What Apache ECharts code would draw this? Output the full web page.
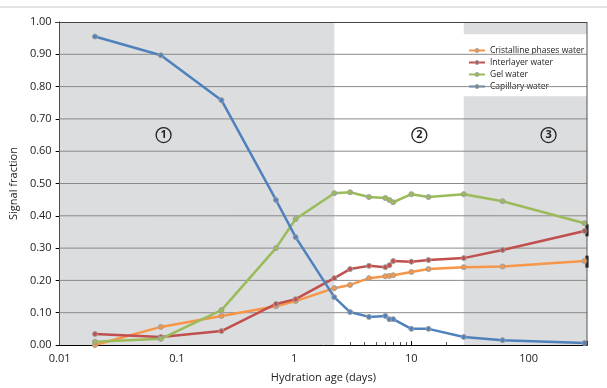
<!DOCTYPE html>
<html>
<head>
<meta charset="utf-8">
<script src="https://cdn.jsdelivr.net/npm/echarts@6/dist/echarts.min.js"></script>
<style>
  html, body { margin: 0; padding: 0; background: #fff; }
  #chart { width: 607px; height: 388px; }
</style>
</head>
<body>
<div id="chart"></div>
<script>
// hydration age in days (log axis)
const ages = [0.02, 0.073, 0.24, 0.7, 1.03, 2.2, 3, 4.35, 6, 6.5, 7, 10, 14, 28, 60, 300];

const crystalline = [0.0, 0.056, 0.09, 0.12, 0.136, 0.176, 0.186, 0.207, 0.213, 0.214, 0.216, 0.226, 0.235, 0.241, 0.243, 0.26];
const interlayer = [0.034, 0.025, 0.043, 0.127, 0.142, 0.207, 0.235, 0.245, 0.241, 0.247, 0.26, 0.258, 0.263, 0.269, 0.294, 0.353];
const gel = [0.01, 0.019, 0.108, 0.30, 0.39, 0.47, 0.473, 0.458, 0.455, 0.449, 0.442, 0.467, 0.458, 0.467, 0.445, 0.377];
const capillary = [0.955, 0.897, 0.758, 0.449, 0.334, 0.148, 0.102, 0.087, 0.09, 0.08, 0.08, 0.05, 0.05, 0.025, 0.015, 0.006];

const seriesNames = ['Cristalline phases water', 'Interlayer water', 'Gel water', 'Capillary water'];
const seriesColors = ['#F79646', '#C0504D', '#9BBB59', '#4F81BD'];

// y grid lines
const yGrid = [0.1, 0.2, 0.3, 0.4, 0.5, 0.6, 0.7, 0.8, 0.9];

// stage boundaries (days) and labels
const stageEdges = [0.01, 2.2, 28, 315];
const stageLabels = ['1', '2', '3'];
const stageLabelX = [0.077, 11.7, 148];

const chart = echarts.init(document.getElementById('chart'));

const toPairs = (vals) => ages.map((a, i) => [a, vals[i]]);

const series = [crystalline, interlayer, gel, capillary].map((vals, i) => ({
  name: seriesNames[i],
  type: 'line',
  data: toPairs(vals),
  symbol: 'circle',
  symbolSize: 5,
  color: seriesColors[i],
  lineStyle: { width: 2.5, color: seriesColors[i] },
  itemStyle: { color: seriesColors[i], borderColor: '#a0a0a0', borderWidth: 1 },
  z: 10,
}));

// shaded stages
series.push({
  name: 'stages',
  type: 'line',
  data: [],
  silent: true,
  z: 1,
  markArea: {
    silent: true,
    itemStyle: { color: '#DCDDDF' },
    data: [
      [{ coord: [stageEdges[0], 0] }, { coord: [stageEdges[1], 1] }],
      [{ coord: [stageEdges[2], 0.962] }, { coord: [stageEdges[3], 1] }],
      [{ coord: [stageEdges[2], 0] }, { coord: [stageEdges[3], 0.77] }],
    ],
  },
});

// grid lines redrawn above the shading, below the data
yGrid.forEach((v) => {
  series.push({
    name: 'grid' + v,
    type: 'line',
    data: [[stageEdges[0], v], [stageEdges[3], v]],
    symbol: 'none',
    silent: true,
    color: '#8a8a8a',
    lineStyle: { color: '#8a8a8a', width: 1 },
    emphasis: { disabled: true },
    z: 5,
  });
});

// circled stage numbers
series.push({
  name: 'stageNums',
  type: 'line',
  data: [],
  silent: true,
  z: 11,
  markPoint: {
    silent: true,
    symbol: 'circle',
    symbolSize: 15,
    itemStyle: { color: 'rgba(0,0,0,0)', borderColor: '#222', borderWidth: 1.3 },
    label: { show: true, color: '#222', fontSize: 11, fontWeight: 'bold', fontFamily: 'Open Sans' },
    data: stageLabels.map((t, i) => ({ coord: [stageLabelX[i], 0.65], value: t })),
  },
});

// small black marks at the right edge
series.push({
  name: 'edge',
  type: 'line',
  data: [],
  silent: true,
  z: 11,
  markPoint: {
    silent: true,
    symbol: 'rect',
    symbolSize: [3, 12],
    itemStyle: { color: '#000' },
    label: { show: false },
    data: [{ coord: [315, 0.355] }, { coord: [315, 0.258] }],
  },
});

const options = {
  animation: false,
  textStyle: { fontFamily: 'Open Sans' },
  grid: { left: 55, right: 20, top: 22, bottom: 42 },
  legend: {
    data: seriesNames.map((n, i) => ({
      name: n,
      itemStyle: { color: seriesColors[i], borderColor: '#a0a0a0', borderWidth: 1 },
      lineStyle: { color: seriesColors[i] },
    })),
    orient: 'vertical',
    left: 463,
    top: 41,
    itemWidth: 16,
    itemHeight: 5,
    itemGap: 3,
    textStyle: { fontSize: 8.5, color: '#222' },
  },
  xAxis: {
    type: 'log',
    logBase: 10,
    min: 0.01,
    max: 315,
    name: 'Hydration age (days)',
    nameLocation: 'middle',
    nameGap: 27,
    nameTextStyle: { fontSize: 11, color: '#222' },
    axisLine: { show: true, lineStyle: { color: '#000', width: 1 } },
    axisTick: { show: true, inside: true, length: 4, lineStyle: { color: '#000' } },
    minorTick: { show: true, splitNumber: 9, length: 3, lineStyle: { color: '#555' } },
    axisLabel: {
      fontSize: 11,
      color: '#222',
      formatter: (v) => {
        const r = Math.round(v * 1000) / 1000;
        if (Math.abs(r - 315) < 1) return '';
        return String(r);
      },
    },
    splitLine: { show: false },
  },
  yAxis: {
    type: 'value',
    min: 0,
    max: 1,
    interval: 0.1,
    name: 'Signal fraction',
    nameLocation: 'middle',
    nameGap: 40,
    nameTextStyle: { fontSize: 11, color: '#222' },
    axisLine: { show: true, lineStyle: { color: '#000', width: 1 } },
    axisTick: { show: true, length: 4, lineStyle: { color: '#000' } },
    axisLabel: { fontSize: 11, color: '#222', formatter: (v) => v.toFixed(2) },
    splitLine: { show: false },
  },
  graphic: [
    { type: 'line', shape: { x1: 0, y1: 7, x2: 607, y2: 7 }, style: { stroke: '#c8c8c8', lineWidth: 1 } },
    { type: 'line', shape: { x1: 587, y1: 22, x2: 587, y2: 346 }, style: { stroke: '#555', lineWidth: 1 }, z: 20 },
    { type: 'line', shape: { x1: 55, y1: 22.5, x2: 587, y2: 22.5 }, style: { stroke: '#444', lineWidth: 1 }, z: 20 },
  ],
  series: series,
};

chart.setOption(options);
</script>
</body>
</html>
